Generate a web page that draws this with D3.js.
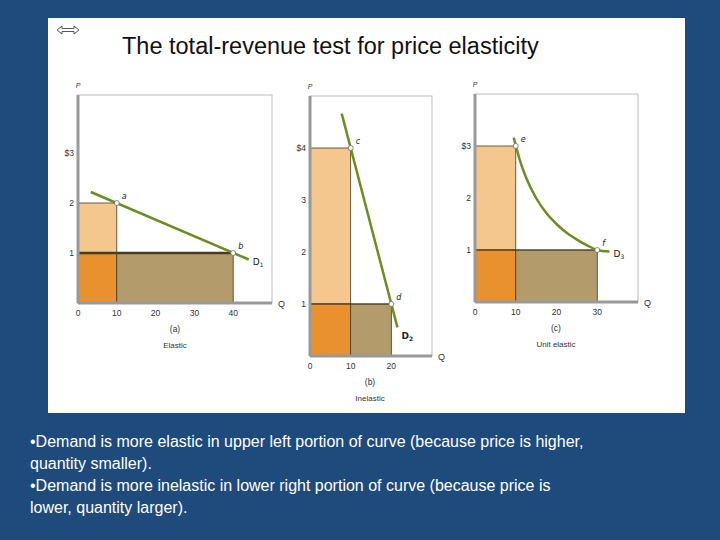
<!DOCTYPE html>
<html><head><meta charset="utf-8">
<script src="https://cdn.jsdelivr.net/npm/d3@7"></script>
<style>body{margin:0;background:#1f4a7c;}svg{display:block;}</style>
</head><body>
<svg id="c" width="720" height="540"></svg>
<script>
// panel data
const panelIds = ['a', 'b', 'c'];
const panelNames = ['Elastic', 'Inelastic', 'Unit elastic'];
const curveNames = ['D1', 'D2', 'D3'];
const qDomains = [[0, 50], [0, 30], [0, 40]];
const pDomains = [[0, 4.16], [0, 5], [0, 4]];
const qTicks = [[0, 10, 20, 30, 40], [0, 10, 20], [0, 10, 20, 30]];
const pTicks = [[1, 2, 3], [1, 2, 3, 4], [1, 2, 3]];
const pTopLabel = ['$3', '$4', '$3'];
const point1 = [[10, 2], [10, 4], [10, 3]];   // a, c, e
const point2 = [[40, 1], [20, 1], [30, 1]];   // b, d, f
const pointNames = [['a', 'b'], ['c', 'd'], ['e', 'f']];
const curveA = [[3.3, 2.22], [44, 0.87]];
const curveB = [[7.8, 4.66], [21.5, 0.55]];
const curveC = [[9.5, 3.16], [11, 2.73], [12.5, 2.4], [15, 2], [17.5, 1.71], [20, 1.5], [22.5, 1.33], [25, 1.2], [27.5, 1.09], [30, 1], [33, 0.97]];
const curves = [curveA, curveB, curveC];
const boxes = [[78, 95, 272, 303], [310, 96, 432, 356], [475, 94, 638, 302]];
const bullets = [
  ['\u2022Demand is more elastic in upper left portion of curve (because price is higher,', 'quantity smaller).'],
  ['\u2022Demand is more inelastic in lower right portion of curve (because price is', 'lower, quantity larger).']
];

const svg = d3.select('#c');
svg.append('rect').attr('x', 48).attr('y', 18).attr('width', 637).attr('height', 395).attr('fill', '#fff');
svg.append('text').attr('x', 122).attr('y', 54).attr('font-family', 'Liberation Sans, Arial').attr('font-size', 23.5)
  .attr('fill', '#111').text('The total-revenue test for price elasticity');
// arrow icon
const ic = svg.append('g').attr('fill', 'none').attr('stroke', '#555').attr('stroke-width', 1);
ic.append('path').attr('d', 'M57,30 L62,26 L62,28.5 L74,28.5 L74,26 L79,30 L74,34 L74,31.5 L62,31.5 L62,34 Z');

const font = 'Liberation Sans Narrow, Liberation Sans, Arial';
panelIds.forEach((id, i) => {
  const [x0, y0, x1, y1] = boxes[i];
  const x = d3.scaleLinear().domain(qDomains[i]).range([x0, x1]);
  const y = d3.scaleLinear().domain(pDomains[i]).range([y1, y0]);
  const g = svg.append('g');
  g.append('rect').attr('x', x0).attr('y', y0).attr('width', x1 - x0).attr('height', y1 - y0)
    .attr('fill', 'none').attr('stroke', '#bbb').attr('stroke-width', 1);
  const [q1, p1] = point1[i], [q2, p2] = point2[i];
  const rects = [
    {a: 0, b: q1, lo: p2, hi: p1, c: '#f3c78e'},
    {a: 0, b: q1, lo: 0, hi: p2, c: '#e8912e'},
    {a: q1, b: q2, lo: 0, hi: p2, c: '#b39b6c'}
  ];
  g.selectAll('.r').data(rects).join('rect')
    .attr('x', d => x(d.a)).attr('width', d => x(d.b) - x(d.a))
    .attr('y', d => y(d.hi)).attr('height', d => y(d.lo) - y(d.hi))
    .attr('fill', d => d.c).attr('stroke', '#4a3a20').attr('stroke-width', 0.8);
  g.append('line').attr('x1', x0).attr('x2', x(q2)).attr('y1', y(p2)).attr('y2', y(p2))
    .attr('stroke', '#4a3a20').attr('stroke-width', i === 0 ? 2.5 : 1);
  // axes
  g.append('line').attr('x1', x0).attr('x2', x0).attr('y1', y0).attr('y2', y1).attr('stroke', '#999').attr('stroke-width', 3);
  g.append('line').attr('x1', x0).attr('x2', x1).attr('y1', y1).attr('y2', y1).attr('stroke', '#999').attr('stroke-width', 3);
  // curve
  g.append('path').datum(curves[i])
    .attr('d', d3.line().x(d => x(d[0])).y(d => y(d[1])).curve(d3.curveMonotoneX))
    .attr('fill', 'none').attr('stroke', '#6b8e23').attr('stroke-width', 2.5);
  [point1[i], point2[i]].forEach((p, k) => {
    g.append('circle').attr('cx', x(p[0])).attr('cy', y(p[1])).attr('r', 2.5)
      .attr('fill', '#fff').attr('stroke', '#666').attr('stroke-width', 0.8);
    g.append('text').attr('x', x(p[0]) + 5).attr('y', y(p[1]) - 4).attr('font-family', 'DejaVu Sans')
      .attr('font-style', 'italic').attr('font-size', 8).attr('fill', '#222').text(pointNames[i][k]);
  });
  const end = curves[i][curves[i].length - 1];
  const lab = g.append('text').attr('x', x(end[0]) + 4).attr('y', y(end[1]) + (i === 1 ? 12 : 5))
    .attr('font-family', 'DejaVu Sans').attr('font-size', 9).attr('font-weight', i === 1 ? 'bold' : 'normal')
    .attr('fill', '#222').text('D');
  lab.append('tspan').attr('font-size', 6).attr('dy', 2).text(curveNames[i].slice(1));
  // ticks
  g.selectAll('.qt').data(qTicks[i]).join('text')
    .attr('x', d => x(d)).attr('y', y1 + 13).attr('text-anchor', 'middle')
    .attr('font-family', font).attr('font-size', 8.5).attr('fill', '#333').text(d => d);
  g.selectAll('.pt').data(pTicks[i]).join('text')
    .attr('x', x0 - 4).attr('y', d => y(d) + 3).attr('text-anchor', 'end')
    .attr('font-family', font).attr('font-size', 8.5).attr('fill', '#333')
    .text((d, k, a) => k === a.length - 1 ? pTopLabel[i] : d);
  g.append('text').attr('x', x0).attr('y', y0 - 7).attr('text-anchor', 'middle').attr('font-family', font)
    .attr('font-style', 'italic').attr('font-size', 7).attr('fill', '#333').text('P');
  g.append('text').attr('x', x1 + 6).attr('y', y1 + 4).attr('font-family', font)
    .attr('font-size', 9).attr('fill', '#333').text('Q');
  const cx = x(qTicks[i][Math.floor(qTicks[i].length / 2)]) - (i === 0 ? 20 : 0);
  g.append('text').attr('x', i === 0 ? 175 : i === 1 ? 370 : 556).attr('y', y1 + 29).attr('text-anchor', 'middle')
    .attr('font-family', font).attr('font-size', 8.5).attr('fill', '#333').text('(' + id + ')');
  g.append('text').attr('x', i === 0 ? 175 : i === 1 ? 370 : 556).attr('y', y1 + 45).attr('text-anchor', 'middle')
    .attr('font-family', font).attr('font-size', 8).attr('fill', '#333').text(panelNames[i]);
});

let ly = 447;
bullets.flat().forEach(t => {
  svg.append('text').attr('x', 30).attr('y', ly).attr('font-family', 'Liberation Sans, Arial')
    .attr('font-size', 16).attr('fill', '#fff').text(t);
  ly += 22;
});
</script>
</body></html>
